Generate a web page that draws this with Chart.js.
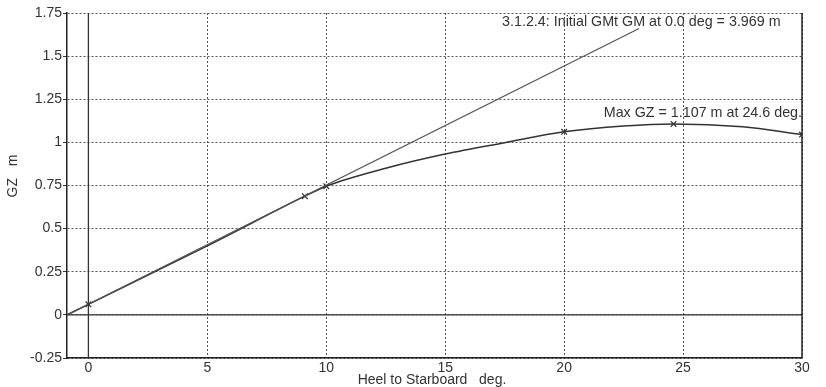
<!DOCTYPE html>
<html>
<head>
<meta charset="utf-8">
<script src="https://cdn.jsdelivr.net/npm/chart.js@4/dist/chart.umd.min.js"></script>
<style>
html,body{margin:0;padding:0;background:#fff;}
#wrap{width:826px;height:387px;position:relative;}
</style>
</head>
<body>
<div id="wrap"><canvas id="c" width="826" height="387"></canvas></div>
<script>
// ---- data ----
const heelDeg = [-0.9, 0, 5, 9.1, 10, 12.5, 15, 17.5, 20, 22.5, 24.6, 27.5, 30];
const gzValues = [0, 0.061, 0.40, 0.688, 0.746, 0.85, 0.932, 0.998, 1.061, 1.095, 1.107, 1.09, 1.045];
const markerHeel = [0, 9.1, 10, 20, 24.6, 30];
const markerGZ = [0.061, 0.688, 0.746, 1.061, 1.107, 1.045];
const gmLineHeel = [-0.9, 23.15];
const gmLineGZ = [0, 1.66];
const xTicks = [0, 5, 10, 15, 20, 25, 30];
const yTicks = [-0.25, 0, 0.25, 0.5, 0.75, 1, 1.25, 1.5, 1.75];
const xRange = [-0.9, 30];
const yRange = [-0.25, 1.75];
const noteTexts = ['3.1.2.4: Initial GMt GM at 0.0 deg = 3.969 m', 'Max GZ = 1.107 m at 24.6 deg.'];
const noteHeel = [29.1, 30];
const noteGZ = [1.698, 1.168];
const xTitle = 'Heel to Starboard   deg.';
const yTitle = 'GZ   m';

const pts = (xs, ys) => xs.map((x, i) => ({x: x, y: ys[i]}));
const FONT = '"Liberation Sans", Arial, sans-serif';

const extras = {
  id: 'extras',
  afterDatasetsDraw(chart) {
    const ctx = chart.ctx, a = chart.chartArea;
    const xs = chart.scales.x, ys = chart.scales.y;
    ctx.save();
    // right frame line
    ctx.strokeStyle = '#222'; ctx.lineWidth = 1.5;
    ctx.beginPath(); ctx.moveTo(a.right, a.top); ctx.lineTo(a.right, a.bottom); ctx.stroke();
    // notes
    ctx.fillStyle = '#333';
    ctx.font = '14.3px ' + FONT;
    ctx.textAlign = 'right'; ctx.textBaseline = 'middle';
    noteTexts.forEach((t, i) => {
      ctx.fillText(t, xs.getPixelForValue(noteHeel[i]), ys.getPixelForValue(noteGZ[i]));
    });
    // axis titles
    ctx.font = '14px ' + FONT;
    ctx.textAlign = 'center';
    ctx.fillText(xTitle, 432, 380);
    ctx.translate(13, 176); ctx.rotate(-Math.PI / 2);
    ctx.fillText(yTitle, 0, 0);
    ctx.restore();
  }
};

new Chart(document.getElementById('c'), {
  type: 'scatter',
  data: {
    datasets: [
      {data: pts([0, 0], yRange), showLine: true, borderColor: '#333', borderWidth: 1.3, pointRadius: 0},
      {data: pts(xRange, [0, 0]), showLine: true, borderColor: '#333', borderWidth: 1.3, pointRadius: 0},
      {data: pts(gmLineHeel, gmLineGZ), showLine: true, borderColor: '#555', borderWidth: 1.3, pointRadius: 0},
      {data: pts(heelDeg, gzValues), showLine: true, borderColor: '#333', borderWidth: 1.5, pointRadius: 0, tension: 0.3, cubicInterpolationMode: 'monotone'},
      {data: pts(markerHeel, markerGZ), showLine: false, pointStyle: 'crossRot', pointRadius: 4, borderColor: '#333', borderWidth: 1.2}
    ]
  },
  options: {
    responsive: false,
    animation: false,
    layout: {padding: {left: 0, right: 24, top: 13, bottom: 0}},
    plugins: {legend: {display: false}, tooltip: {enabled: false}},
    scales: {
      x: {
        type: 'linear', min: xRange[0], max: xRange[1],
        afterBuildTicks: s => { s.ticks = xTicks.map(v => ({value: v})); },
        afterFit: s => { s.height = 29; },
        ticks: {color: '#333', font: {size: 14, family: FONT}, padding: 2, maxRotation: 0, autoSkip: false},
        grid: {color: '#555', lineWidth: 1, drawTicks: false, tickLength: 0},
        border: {display: true, color: '#222', width: 1.5, dash: [2, 2]}
      },
      y: {
        type: 'linear', min: yRange[0], max: yRange[1],
        afterBuildTicks: s => { s.ticks = yTicks.map(v => ({value: v})); },
        afterFit: s => { s.width = 67; },
        ticks: {color: '#333', font: {size: 14, family: FONT}, padding: 1, autoSkip: false,
          callback: v => String(v)},
        grid: {color: '#555', lineWidth: 1, drawTicks: true, tickLength: 4, tickColor: '#333'},
        border: {display: true, color: '#222', width: 1.5, dash: [2, 2]}
      }
    }
  },
  plugins: [extras]
});
</script>
</body>
</html>
